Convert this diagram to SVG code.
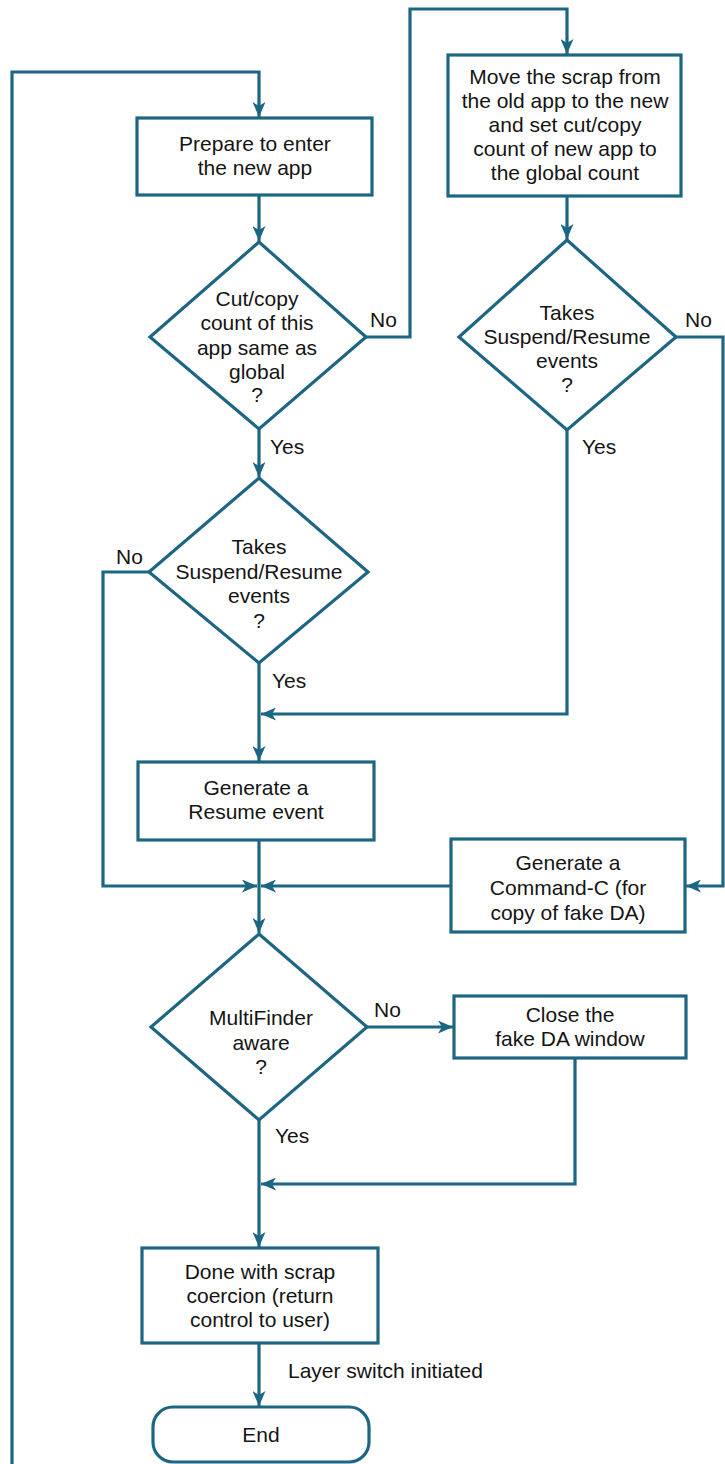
<svg xmlns="http://www.w3.org/2000/svg" width="725" height="1464" viewBox="0 0 725 1464">
<style>
.s{fill:#ffffff;stroke:#1d6683;stroke-width:3.2;stroke-linejoin:miter}
.c{fill:none;stroke:#1d6683;stroke-width:3.2}
.t{font-family:"Liberation Sans",Arial,Helvetica,sans-serif;font-size:21px;fill:#141414;text-anchor:middle}
.l{font-family:"Liberation Sans",Arial,Helvetica,sans-serif;font-size:21px;fill:#141414;text-anchor:start}
</style>
<defs>
<marker id="ah" markerUnits="userSpaceOnUse" markerWidth="16" markerHeight="13" refX="15" refY="6.5" orient="auto">
<path d="M0,0 L15,6.5 L0,13 L4,6.5 Z" fill="#1d6683"/>
</marker>
</defs>
<rect width="725" height="1464" fill="#ffffff"/>
<g id="connectors">
<path class="c" d="M12,1464 V72 H259 V117" marker-end="url(#ah)"/>
<path class="c" d="M259,195 V241" marker-end="url(#ah)"/>
<path class="c" d="M366,337 H410 V9 H567 V54" marker-end="url(#ah)"/>
<path class="c" d="M567,196 V239" marker-end="url(#ah)"/>
<path class="c" d="M676,337 H723 V886 H686" marker-end="url(#ah)"/>
<path class="c" d="M567,430 V714 H261" marker-end="url(#ah)"/>
<path class="c" d="M259,429 V477" marker-end="url(#ah)"/>
<path class="c" d="M259,663 V761" marker-end="url(#ah)"/>
<path class="c" d="M149,572 H103 V886 H257" marker-end="url(#ah)"/>
<path class="c" d="M259,840 V933" marker-end="url(#ah)"/>
<path class="c" d="M451,886 H261" marker-end="url(#ah)"/>
<path class="c" d="M367,1027 H453" marker-end="url(#ah)"/>
<path class="c" d="M575,1058 V1184 H261" marker-end="url(#ah)"/>
<path class="c" d="M259,1120 V1247" marker-end="url(#ah)"/>
<path class="c" d="M259,1343 V1406" marker-end="url(#ah)"/>
</g>
<g id="labels">
<text class="l" x="270" y="454">Yes</text>
<text class="l" x="370" y="327">No</text>
<text class="l" x="582" y="454">Yes</text>
<text class="l" x="685" y="327">No</text>
<text class="l" x="116" y="564">No</text>
<text class="l" x="272" y="688">Yes</text>
<text class="l" x="374" y="1017">No</text>
<text class="l" x="275" y="1143">Yes</text>
<text class="l" x="288" y="1378">Layer switch initiated</text>
</g>
<g id="prepare">
<rect class="s" x="137" y="118" width="235" height="77"/>
<text class="t" x="255" y="151">Prepare to enter</text>
<text class="t" x="255" y="175">the new app</text>
</g>
<g id="move-scrap">
<rect class="s" x="448" y="55" width="233" height="141"/>
<text class="t" x="565" y="84">Move the scrap from</text>
<text class="t" x="565" y="108">the old app to the new</text>
<text class="t" x="565" y="132">and set cut/copy</text>
<text class="t" x="565" y="156">count of new app to</text>
<text class="t" x="565" y="180">the global count</text>
</g>
<g id="cutcopy-same">
<polygon class="s" points="259,242 366,337 259,429 150,337"/>
<text class="t" x="257" y="306">Cut/copy</text>
<text class="t" x="257" y="330">count of this</text>
<text class="t" x="257" y="355">app same as</text>
<text class="t" x="257" y="379">global</text>
<text class="t" x="257" y="402">?</text>
</g>
<g id="takes-suspend-right">
<polygon class="s" points="567,240 676,337 567,430 459,337"/>
<text class="t" x="567" y="320">Takes</text>
<text class="t" x="567" y="344">Suspend/Resume</text>
<text class="t" x="567" y="368">events</text>
<text class="t" x="567" y="392">?</text>
</g>
<g id="takes-suspend-left">
<polygon class="s" points="259,478 368,572 259,663 149,572"/>
<text class="t" x="259" y="554">Takes</text>
<text class="t" x="259" y="579">Suspend/Resume</text>
<text class="t" x="259" y="603">events</text>
<text class="t" x="259" y="628">?</text>
</g>
<g id="resume-event">
<rect class="s" x="138" y="762" width="236" height="78"/>
<text class="t" x="256" y="795">Generate a</text>
<text class="t" x="256" y="819">Resume event</text>
</g>
<g id="command-c">
<rect class="s" x="451" y="839" width="234" height="93"/>
<text class="t" x="568" y="870">Generate a</text>
<text class="t" x="568" y="895">Command-C (for</text>
<text class="t" x="568" y="920">copy of fake DA)</text>
</g>
<g id="multifinder">
<polygon class="s" points="259,934 367,1027 259,1120 151,1027"/>
<text class="t" x="261" y="1025">MultiFinder</text>
<text class="t" x="261" y="1050">aware</text>
<text class="t" x="261" y="1074">?</text>
</g>
<g id="close-da">
<rect class="s" x="454" y="996" width="232" height="62"/>
<text class="t" x="570" y="1022">Close the</text>
<text class="t" x="570" y="1046">fake DA window</text>
</g>
<g id="done">
<rect class="s" x="142" y="1248" width="236" height="95"/>
<text class="t" x="260" y="1279">Done with scrap</text>
<text class="t" x="260" y="1303">coercion (return</text>
<text class="t" x="260" y="1327">control to user)</text>
</g>
<g id="end">
<rect class="s" x="153" y="1407" width="216" height="55" rx="20" ry="20"/>
<text class="t" x="261" y="1442">End</text>
</g>
</svg>
